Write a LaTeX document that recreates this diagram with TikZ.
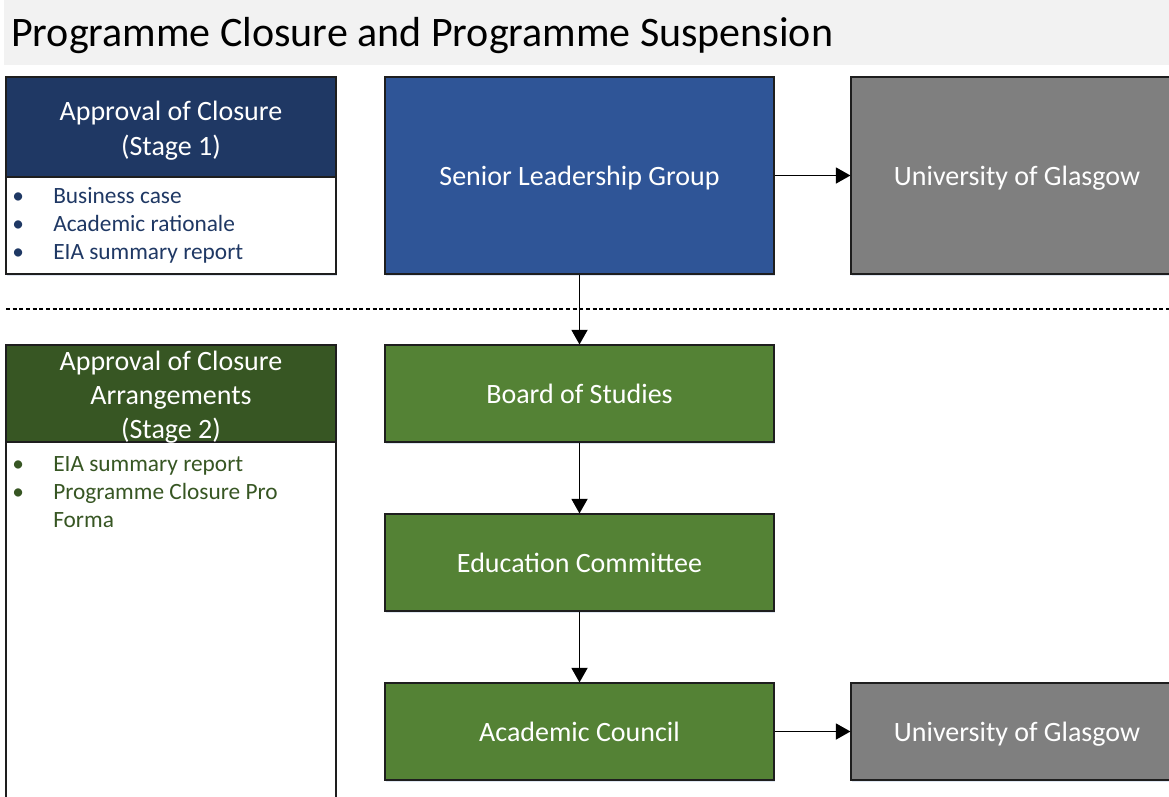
\documentclass[tikz,border=0pt]{standalone}
\usepackage{fontspec}
\setmainfont{Carlito}
\usepackage{xcolor}
\usepackage{tikz}
\usetikzlibrary{arrows.meta,positioning,shadows}
\definecolor{progtitle}{HTML}{F2F2F2}
\definecolor{prognavy}{HTML}{1F3864}
\definecolor{progblue}{HTML}{2F5597}
\definecolor{progforest}{HTML}{375623}
\definecolor{proggreen}{HTML}{548235}
\definecolor{proggray}{HTML}{7F7F7F}
\definecolor{progedge}{HTML}{1E1E1E}
\definecolor{progshade}{HTML}{C9D6EA}
\newcommand{\headstrut}{\rule{0pt}{20.3pt}}

\tikzset{
  boxshade/.style={drop shadow={shadow xshift=0.6pt,shadow yshift=-1.6pt,
    fill=progshade,opacity=0.6}},
  stagehead/.style={draw=progedge,line width=0.8pt,text=white,align=center,
    inner sep=0pt,minimum width=247.5pt,font=\fontsize{21}{25.5}\selectfont},
  flowbox/.style={draw=progedge,line width=0.8pt,text=white,inner sep=0pt,
    text height=20pt,text depth=4.5pt,
    minimum height=72.75pt,font=\fontsize{21}{24}\selectfont,boxshade},
  listtext/.style={anchor=base west,inner sep=0pt,font=\fontsize{17.5}{21}\selectfont},
  flowarrow/.style={-{Triangle[length=11pt,width=12pt]},line width=1.4pt}
}

\begin{document}
\begin{tikzpicture}[x=0.75pt,y=-0.75pt]
  \useasboundingbox (0,0) rectangle (1169,796);
  \clip (0,0) rectangle (1169,796);
  % heading band
  \fill[progtitle] (4,0) rectangle (1169,65);
  \node[anchor=base west,inner sep=0pt,font=\fontsize{31.5}{36}\selectfont]
    (title) at (11,46) {Programme Closure and Programme Suspension};

  % stage 1: closure
  \draw[draw=progedge,line width=0.8pt,fill=white,boxshade] (6,177) rectangle (336,274);
  \node[stagehead,fill=prognavy,minimum height=75pt] (stageone) at (171,127)
    {\headstrut Approval of Closure\\[1pt](Stage 1)};
  \foreach \txt/\y [count=\i] in {Business case/203,Academic rationale/231,
      EIA summary report/259} {
    \node[listtext,text=prognavy] (onedot\i) at (12,\y) {\textbullet};
    \node[listtext,text=prognavy] (oneitem\i) at (53,\y) {\txt};
  }
  \node[flowbox,fill=progblue,minimum width=291.75pt,minimum height=147.75pt]
    (slg) at (579.5,175.5) {Senior Leadership Group};
  \node[flowbox,fill=proggray,minimum width=249pt,minimum height=147.75pt]
    (uogtop) at (1017,175.5) {University of Glasgow};

  % split between the two stages
  \draw[line width=1.2pt,dash pattern=on 3pt off 2pt] (6,309) -- (1169,309);

  % stage 2: arrangements
  \draw[draw=progedge,line width=0.8pt,fill=white,boxshade] (6,442) rectangle (336,830);
  \node[stagehead,fill=progforest,minimum height=72.75pt] (stagetwo) at (171,393.5) {};
  \node[stagehead,draw=none] (stagetwotext) at (171,397.5)
    {Approval of Closure\\Arrangements\\(Stage 2)};
  \foreach \txt/\y [count=\i] in {EIA summary report/471,Programme Closure Pro/499} {
    \node[listtext,text=progforest] (twodot\i) at (12,\y) {\textbullet};
    \node[listtext,text=progforest] (twoitem\i) at (53,\y) {\txt};
  }
  \node[listtext,text=progforest] (twoitem3) at (53,527) {Forma};
  \node[flowbox,fill=proggreen,minimum width=291.75pt] (bos) at (579.5,393.5)
    {Board of Studies};
  \node[flowbox,fill=proggreen,minimum width=291.75pt] (edcom) at (579.5,562.5)
    {Education Committee};
  \node[flowbox,fill=proggreen,minimum width=291.75pt] (acc) at (579.5,731.5)
    {Academic Council};
  \node[flowbox,fill=proggray,minimum width=249pt] (uogbot) at (1017,731.5)
    {University of Glasgow};

  % connectors
  \draw[flowarrow] (slg) -- (uogtop);
  \draw[flowarrow] (slg) -- (bos);
  \draw[flowarrow] (bos) -- (edcom);
  \draw[flowarrow] (edcom) -- (acc);
  \draw[flowarrow] (acc) -- (uogbot);
\end{tikzpicture}
\end{document}
